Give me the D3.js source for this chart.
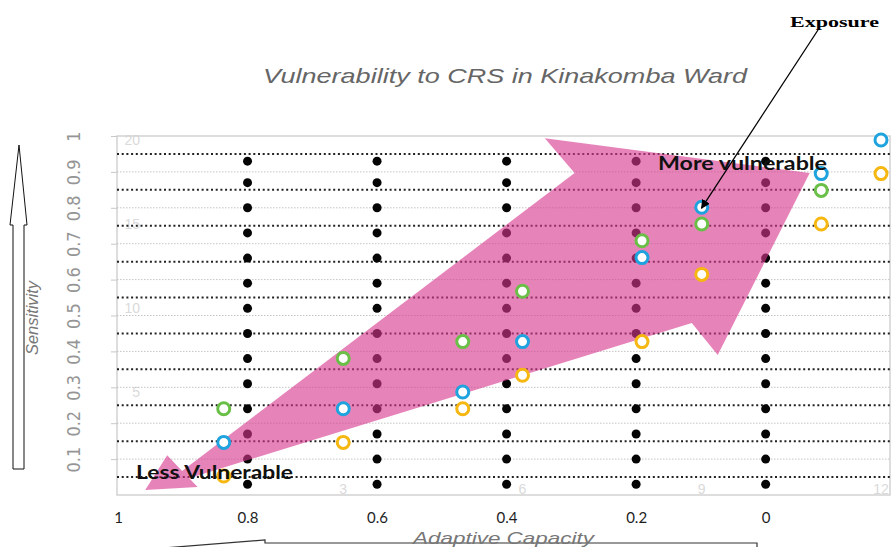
<!DOCTYPE html>
<html>
<head>
<meta charset="utf-8">
<script src="https://cdn.jsdelivr.net/npm/d3@7"></script>
<style>
  body { margin: 0; background: #fff; }
</style>
</head>
<body>
<div id="chart"></div>
<script>
const W = 896, H = 547;

// visible axes
const capacityTicks = [1, 0.8, 0.6, 0.4, 0.2, 0];
const sensitivityTicks = [0.1, 0.2, 0.3, 0.4, 0.5, 0.6, 0.7, 0.8, 0.9, 1];
const midLines = [0.05, 0.15, 0.25, 0.35, 0.45, 0.55, 0.65, 0.75, 0.85, 0.95];

// black dot grid
const dotColumns = [0.8, 0.6, 0.4, 0.2, 0];
const dotLevels = [0.03, 0.10, 0.17, 0.24, 0.31, 0.38, 0.45, 0.52, 0.59, 0.66, 0.73, 0.80, 0.87, 0.93];

// open circles, on the faint 0-12 / 0-20 scale behind the chart
const blueX = [12, 11, 9, 8, 6, 5, 3, 1];
const blueY = [20, 18, 16, 13, 8, 5, 4, 2];
const greenX = [11, 9, 8, 6, 5, 3, 1];
const greenY = [17, 15, 14, 11, 8, 7, 4];
const yellowX = [12, 11, 9, 8, 6, 5, 3, 1];
const yellowY = [18, 15, 12, 8, 6, 4, 2, 0];
const faintXTicks = [3, 6, 9, 12];
const faintYTicks = [5, 10, 15, 20];

// pink double arrow outline (adaptive capacity, sensitivity)
const arrowCap  = [0.958, 0.924, 0.901, 0.295, 0.341, -0.068, 0.074, 0.114, 0.890, 0.877];
const arrowSens = [0.014, 0.111, 0.067, 0.897, 0.994, 0.897, 0.390, 0.479, 0.047, 0.022];

const x = d3.scaleLinear().domain([1, -0.192]).range([118, 890]);
const y = d3.scaleLinear().domain([0, 1]).range([495, 136]);
const xh = d3.scaleLinear().domain([0, 12]).range([164, 881]);
const yh = d3.scaleLinear().domain([0, 20]).range([476, 140]);

const svg = d3.select("#chart").append("svg")
  .attr("width", W).attr("height", H)
  .style("font-family", "'Liberation Sans', Arial, sans-serif");

const left = 117, right = 890;

// title
svg.append("text")
  .attr("x", 263).attr("y", 83)
  .attr("textLength", 484).attr("lengthAdjust", "spacingAndGlyphs")
  .style("font-size", "21px").style("font-style", "italic")
  .attr("fill", "#666")
  .text("Vulnerability to CRS in Kinakomba Ward");

// faint background scale labels
svg.append("g").selectAll("text").data(faintYTicks).join("text")
  .attr("x", 140).attr("y", d => yh(d))
  .attr("text-anchor", "end").attr("dominant-baseline", "central")
  .attr("fill", "#dadada").style("font-size", "14px")
  .text(d => d);
svg.append("g").selectAll("text").data(faintXTicks).join("text")
  .attr("x", d => xh(d)).attr("y", 489)
  .attr("text-anchor", "middle").attr("dominant-baseline", "central")
  .attr("fill", "#dadada").style("font-size", "14px")
  .text(d => d);

// frame
svg.append("rect")
  .attr("x", left).attr("y", y(1))
  .attr("width", right - left).attr("height", y(0) - y(1))
  .attr("fill", "none").attr("stroke", "#d2d2d2").attr("stroke-width", 1.5);

// light dotted grid on the ticks
svg.append("g").selectAll("line").data(sensitivityTicks.filter(d => d < 1)).join("line")
  .attr("x1", left).attr("x2", right)
  .attr("y1", d => y(d)).attr("y2", d => y(d))
  .attr("stroke", "#c4c4c4").attr("stroke-width", 1)
  .attr("stroke-dasharray", "1.5,1.5");

// dark dotted lines between ticks
svg.append("g").selectAll("line").data(midLines).join("line")
  .attr("x1", left).attr("x2", right)
  .attr("y1", d => y(d)).attr("y2", d => y(d))
  .attr("stroke", "#222").attr("stroke-width", 2)
  .attr("stroke-dasharray", "2,2.7");

// left axis, rotated tick labels
const yAxis = svg.append("g")
  .attr("transform", `translate(${left},0)`)
  .call(d3.axisLeft(y).tickValues(sensitivityTicks).tickSize(6).tickFormat(d3.format("")));
yAxis.select(".domain").remove();
yAxis.selectAll("line").attr("stroke", "#c8c8c8");
yAxis.selectAll("text")
  .attr("x", 0).attr("dy", null)
  .attr("transform", "translate(-44,0) rotate(-90)")
  .attr("text-anchor", "middle").attr("dominant-baseline", "central")
  .attr("fill", "#959595")
  .style("font-family", "'Liberation Sans Narrow', 'DejaVu Sans Condensed', sans-serif")
  .style("font-size", "18px");

// bottom axis labels
const xAxis = svg.append("g")
  .attr("transform", `translate(0,${y(0)})`)
  .call(d3.axisBottom(x).tickValues(capacityTicks).tickSize(0).tickFormat(d3.format("")));
xAxis.select(".domain").remove();
xAxis.selectAll("text")
  .attr("y", 28).attr("dy", null)
  .attr("fill", "#1e1e1e")
  .style("font-family", "Lato, 'Open Sans', sans-serif")
  .style("font-size", "15px");

// black dots
const dots = [];
dotColumns.forEach(c => dotLevels.forEach(s => dots.push({ c, s })));
svg.append("g").selectAll("circle").data(dots).join("circle")
  .attr("cx", d => x(d.c)).attr("cy", d => y(d.s))
  .attr("r", 4.5).attr("fill", "#050505");

// pink arrow overlay
const arrowPts = arrowCap.map((c, i) => [x(c), y(arrowSens[i])]);
svg.append("path")
  .attr("d", d3.line()(arrowPts) + "Z")
  .attr("fill", "#d6388f").attr("fill-opacity", 0.62);

// open circles
const rings = [
  { xs: blueX, ys: blueY, color: "#1fa3de" },
  { xs: greenX, ys: greenY, color: "#6abf47" },
  { xs: yellowX, ys: yellowY, color: "#f5b710" }
];
rings.forEach(r => {
  svg.append("g").selectAll("circle").data(r.xs.map((v, i) => [v, r.ys[i]])).join("circle")
    .attr("cx", d => xh(d[0])).attr("cy", d => yh(d[1]))
    .attr("r", 6).attr("fill", "#fff")
    .attr("stroke", r.color).attr("stroke-width", 3);
});

// annotations
svg.append("text")
  .attr("x", 658).attr("y", 170)
  .attr("textLength", 169).attr("lengthAdjust", "spacingAndGlyphs")
  .style("font-family", "Lato, 'Open Sans', sans-serif")
  .style("font-weight", "bold").style("font-size", "18px")
  .attr("fill", "#111")
  .text("More vulnerable");

svg.append("text")
  .attr("x", 136).attr("y", 479)
  .attr("textLength", 157).attr("lengthAdjust", "spacingAndGlyphs")
  .style("font-family", "Lato, 'Open Sans', sans-serif")
  .style("font-weight", "bold").style("font-size", "18px")
  .attr("fill", "#111")
  .text("Less Vulnerable");

svg.append("text")
  .attr("x", 790).attr("y", 27)
  .attr("textLength", 89).attr("lengthAdjust", "spacingAndGlyphs")
  .style("font-family", "'Liberation Serif', 'Times New Roman', serif")
  .style("font-weight", "bold").style("font-size", "15px")
  .attr("fill", "#000")
  .text("Exposure");

svg.append("defs").append("marker")
  .attr("id", "head").attr("viewBox", "0 0 10 10")
  .attr("refX", 9).attr("refY", 5)
  .attr("markerWidth", 7).attr("markerHeight", 7)
  .attr("orient", "auto")
  .append("path").attr("d", "M0,0L10,5L0,10Z").attr("fill", "#000");

svg.append("line")
  .attr("x1", 818).attr("y1", 30)
  .attr("x2", x(0.099)).attr("y2", y(0.799))
  .attr("stroke", "#000").attr("stroke-width", 1.3)
  .attr("marker-end", "url(#head)");

// axis titles
svg.append("text")
  .attr("transform", "translate(38,318) rotate(-90)")
  .attr("text-anchor", "middle")
  .attr("textLength", 74).attr("lengthAdjust", "spacingAndGlyphs")
  .style("font-size", "16px").style("font-style", "italic")
  .attr("fill", "#777")
  .text("Sensitivity");

// hollow arrow at the bottom (cut by page edge)
svg.append("path")
  .attr("d", "M100,553 L265,540 L265,543 L757,543 L757,560")
  .attr("fill", "none").attr("stroke", "#333").attr("stroke-width", 1.2);

svg.append("text")
  .attr("x", 413).attr("y", 544)
  .attr("textLength", 181).attr("lengthAdjust", "spacingAndGlyphs")
  .style("font-size", "17px").style("font-style", "italic")
  .attr("fill", "#777")
  .text("Adaptive Capacity");

// hollow arrow on the left (pointing up)
svg.append("path")
  .attr("d", "M19,145 L27,225 L24,225 L24,469 L13,469 L13,225 L10,225 Z")
  .attr("fill", "#fff").attr("stroke", "#111").attr("stroke-width", 1);
</script>
</body>
</html>
